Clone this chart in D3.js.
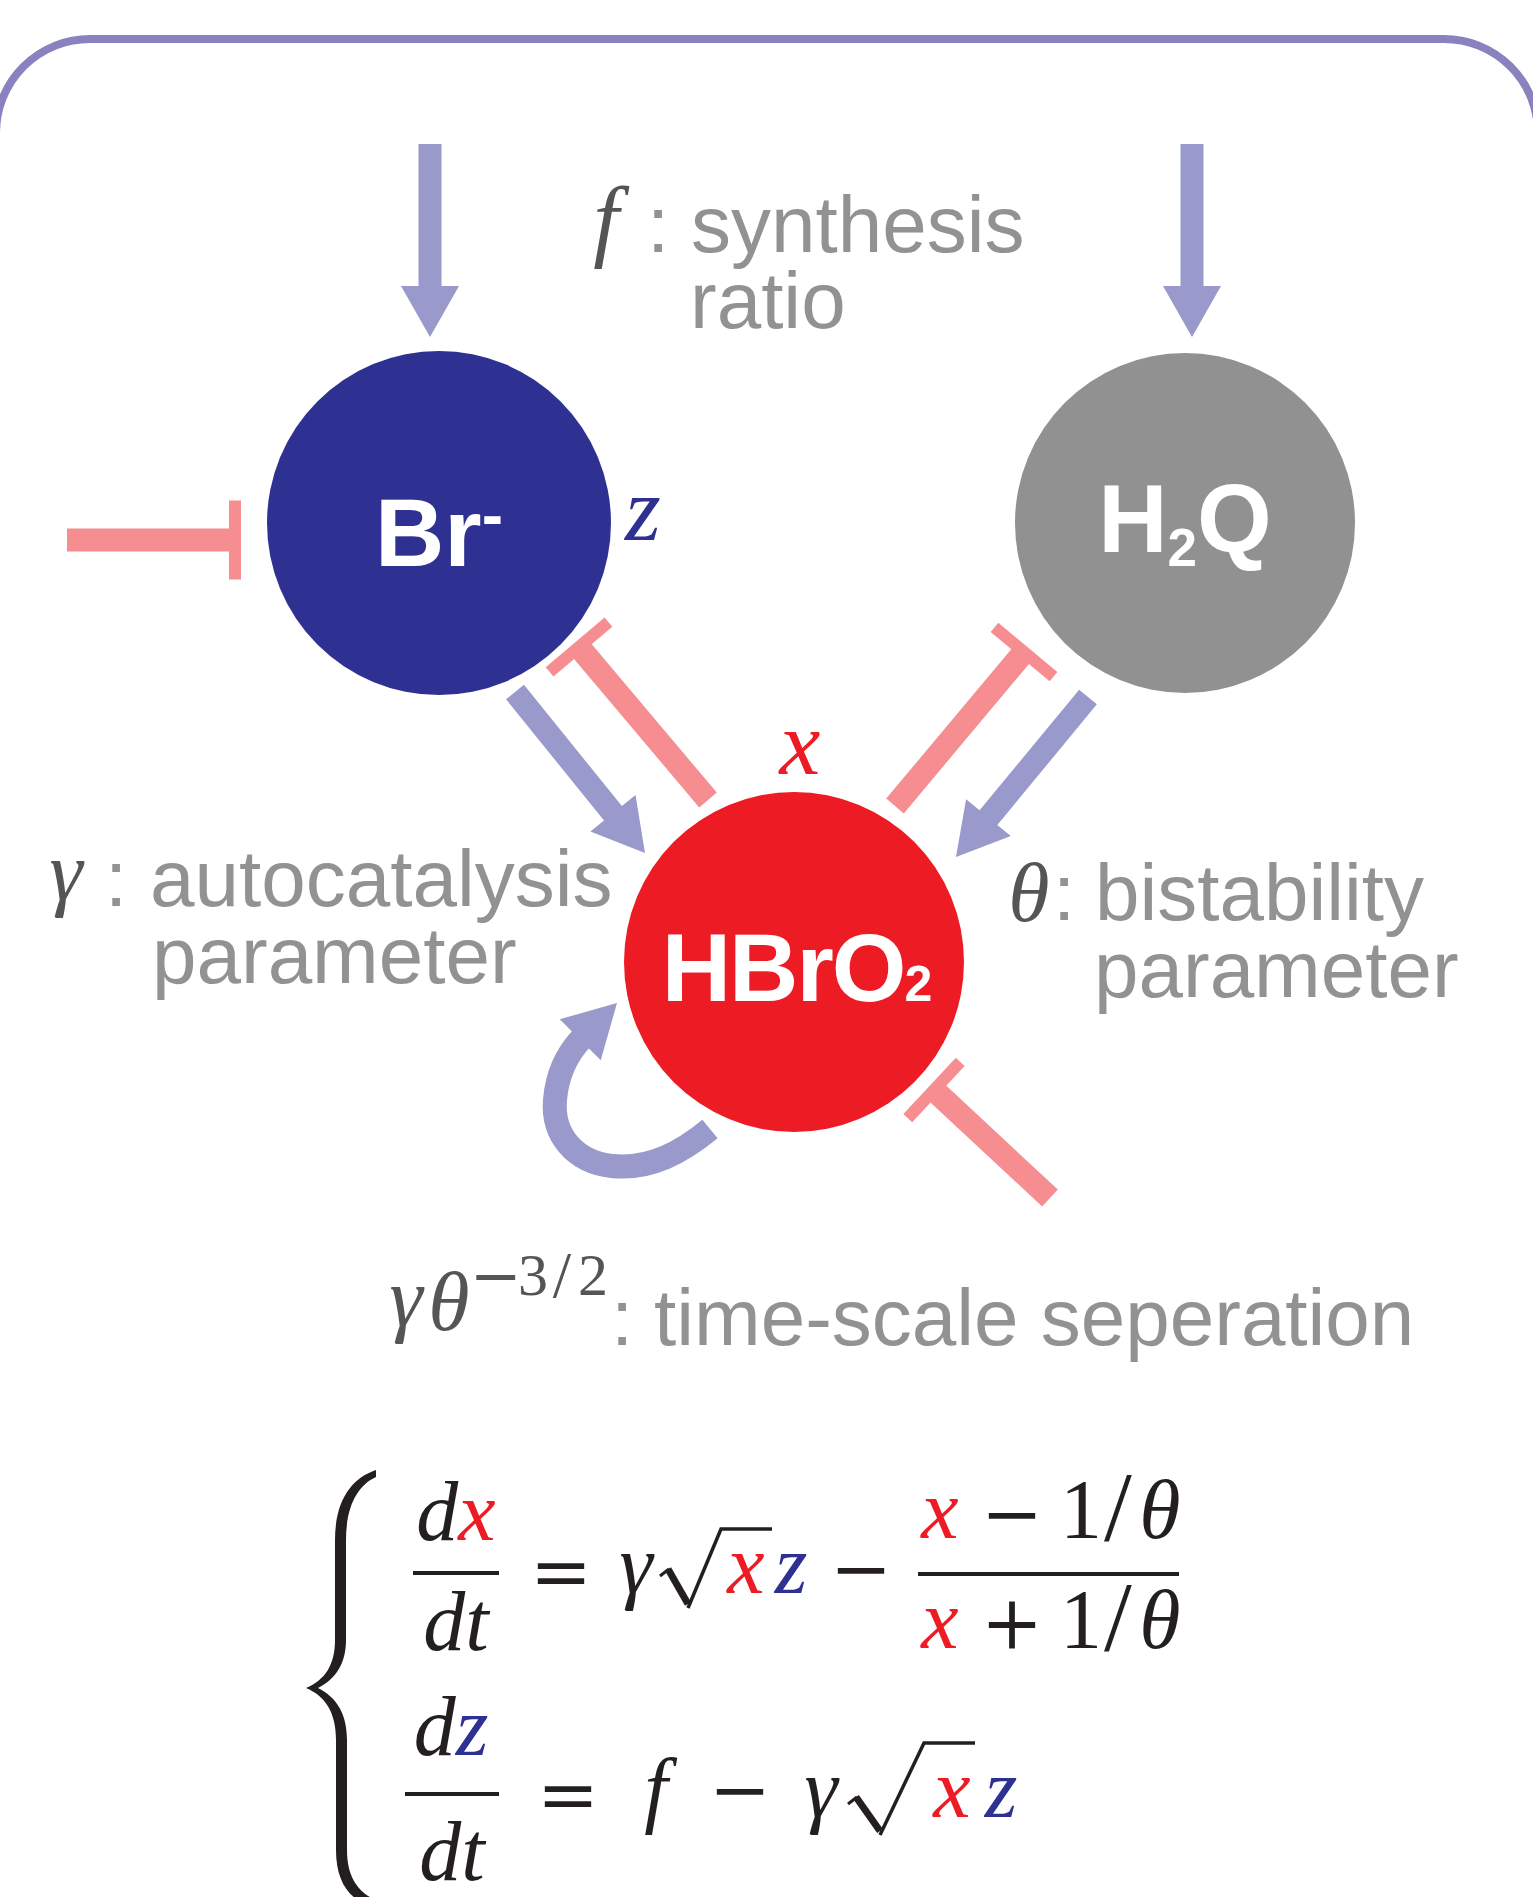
<!DOCTYPE html>
<html><head><meta charset="utf-8">
<script src="https://cdn.jsdelivr.net/npm/d3@7"></script>
<style>html,body{margin:0;padding:0;background:#fff;}svg{display:block}</style>
</head><body>
<script>
// ---------- data ----------
const nodeIds = ["Br", "H2Q", "HBrO2"];
const nodeFills = ["#2e3192", "#929191", "#ed1c24"];
const activationEdges = [["in", "Br"], ["in", "H2Q"], ["Br", "HBrO2"], ["H2Q", "HBrO2"]];
const inhibitionEdges = [["in", "Br"], ["HBrO2", "Br"], ["HBrO2", "H2Q"], ["in", "HBrO2"]];
const selfLoops = [["HBrO2", "HBrO2"]];
const variableNames = ["z", "x"];
const paramLabels = ["synthesis", "ratio", "autocatalysis", "parameter", "bistability", "parameter", "time-scale seperation"];

// ---------- layout ----------
const W = 1533, H = 1897;
const C = {act: "#9999cc", inh: "#f58d91", border: "#8883be", gray: "#929292", math: "#555555", ink: "#231f20", red: "#ed1c24", navy: "#2e3192"};
const nodePos = {Br: [439, 523, 172], H2Q: [1185, 523, 170], HBrO2: [794, 962, 170]};
const actGeom = [[430, 144, 430, 337], [1192, 144, 1192, 337], [515, 692, 645, 853], [1088, 697, 956, 857]];
const inhGeom = [[67, 540, 235, 540, 79], [708, 800, 579, 647, 77], [895, 806, 1024, 652, 77], [1050, 1198, 934, 1090, 77]];

const svg = d3.select("body").append("svg").attr("width", W).attr("height", H);

svg.append("rect").attr("x", -4).attr("y", 39).attr("width", 1542).attr("height", 2100)
  .attr("rx", 94).attr("fill", "none").attr("stroke", C.border).attr("stroke-width", 8);

function arrowPts(sx, sy, tx, ty, w, hw, hl) {
  const L = Math.hypot(tx - sx, ty - sy), ux = (tx - sx) / L, uy = (ty - sy) / L, nx = -uy, ny = ux;
  const bx = tx - ux * hl, by = ty - uy * hl;
  return [[sx + nx * w / 2, sy + ny * w / 2], [bx + nx * w / 2, by + ny * w / 2], [bx + nx * hw / 2, by + ny * hw / 2],
    [tx, ty], [bx - nx * hw / 2, by - ny * hw / 2], [bx - nx * w / 2, by - ny * w / 2], [sx - nx * w / 2, sy - ny * w / 2]];
}
const line = d3.line();

svg.selectAll("path.act").data(actGeom).join("path").attr("class", "act")
  .attr("d", g => line(arrowPts(g[0], g[1], g[2], g[3], 23, 58, 51)) + "Z").attr("fill", C.act);

const inh = svg.selectAll("g.inh").data(inhGeom).join("g").attr("class", "inh");
inh.append("line").attr("x1", g => g[0]).attr("y1", g => g[1]).attr("x2", g => g[2]).attr("y2", g => g[3])
  .attr("stroke", C.inh).attr("stroke-width", 23);
inh.append("line")
  .each(function (g) {
    const L = Math.hypot(g[2] - g[0], g[3] - g[1]), ux = (g[2] - g[0]) / L, uy = (g[3] - g[1]) / L, nx = -uy, ny = ux;
    d3.select(this).attr("x1", g[2] - nx * g[4] / 2).attr("y1", g[3] - ny * g[4] / 2)
      .attr("x2", g[2] + nx * g[4] / 2).attr("y2", g[3] + ny * g[4] / 2);
  })
  .attr("stroke", C.inh).attr("stroke-width", 12);

svg.append("path").attr("d", "M710,1129 C682,1152 650,1170 612,1166 C575,1162 552,1135 555,1100 C557,1075 566,1055 582,1038")
  .attr("fill", "none").attr("stroke", C.act).attr("stroke-width", 24);
svg.append("path").attr("d", line(arrowPts(576, 1044, 617, 1003, 0, 58, 52)) + "Z").attr("fill", C.act);

svg.selectAll("circle.node").data(nodeIds).join("circle").attr("class", "node")
  .attr("cx", d => nodePos[d][0]).attr("cy", d => nodePos[d][1]).attr("r", d => nodePos[d][2])
  .attr("fill", (d, i) => nodeFills[i]);

const sans = "'Liberation Sans', Arial, Helvetica, sans-serif";
const serif = "'Liberation Serif', 'Times New Roman', serif";
const opFont = "'DejaVu Serif', serif";

let t = svg.append("text").attr("x", 439).attr("y", 566).attr("text-anchor", "middle")
  .attr("font-family", sans).attr("font-weight", "bold").attr("font-size", 96).attr("fill", "#fff");
t.append("tspan").text("Br");
t.append("tspan").attr("font-size", 64).attr("dy", -29).text("-");

t = svg.append("text").attr("x", 1185).attr("y", 552).attr("text-anchor", "middle")
  .attr("font-family", sans).attr("font-weight", "bold").attr("font-size", 96).attr("fill", "#fff");
t.append("tspan").text("H");
t.append("tspan").attr("font-size", 53).attr("dy", 14).text("2");
t.append("tspan").attr("dy", -14).text("Q");

t = svg.append("text").attr("x", 796).attr("y", 1001).attr("text-anchor", "middle")
  .attr("font-family", sans).attr("font-weight", "bold").attr("font-size", 96).attr("fill", "#fff")
  .attr("letter-spacing", -2);
t.append("tspan").text("HBrO");
t.append("tspan").attr("font-size", 50).text("2");

function tx(x, y, s, o = {}) {
  return svg.append("text").attr("x", x).attr("y", y).text(s)
    .attr("text-anchor", o.anchor || "start")
    .attr("font-family", o.op ? opFont : (o.serif ? serif : sans))
    .attr("font-style", o.italic ? "italic" : "normal")
    .attr("font-size", o.size || 80)
    .attr("fill", o.fill || C.gray);
}

tx(643, 540, variableNames[0], {serif: 1, italic: 1, size: 92, fill: C.navy, anchor: "middle"});
tx(800, 774, variableNames[1], {serif: 1, italic: 1, size: 92, fill: C.red, anchor: "middle"});

tx(606, 250, "f", {serif: 1, italic: 1, size: 92, fill: C.math, anchor: "middle"});
tx(647, 252, ":");
tx(691, 252, paramLabels[0]);
tx(690, 328, paramLabels[1]);

tx(66, 900, "γ", {serif: 1, italic: 1, size: 84, fill: C.math, anchor: "middle"});
tx(105, 906, ":");
tx(150, 906, paramLabels[2]);
tx(152, 983, paramLabels[3]);

tx(1029, 921, "θ", {serif: 1, italic: 1, size: 84, fill: C.math, anchor: "middle"});
tx(1053, 920, ":");
tx(1095, 920, paramLabels[4]);
tx(1094, 997, paramLabels[5]);

tx(406, 1326, "γ", {serif: 1, italic: 1, size: 84, fill: C.math, anchor: "middle"});
tx(449, 1330, "θ", {serif: 1, italic: 1, size: 84, fill: C.math, anchor: "middle"});
tx(496, 1297, "−", {op: 1, size: 62, fill: C.math, anchor: "middle"});
tx(533, 1295, "3", {serif: 1, size: 60, fill: C.math, anchor: "middle"});
tx(562, 1297, "/", {serif: 1, size: 66, fill: C.math, anchor: "middle"});
tx(593, 1295, "2", {serif: 1, size: 60, fill: C.math, anchor: "middle"});
tx(611, 1345, ":");
tx(654, 1345, paramLabels[6]);

// ---------- equations ----------
const E = {serif: 1, size: 84, fill: C.ink, anchor: "middle"};
const EI = Object.assign({}, E, {italic: 1});
const OP = {op: 1, size: 74, fill: C.ink, anchor: "middle"};
function frac(x1, x2, y) {
  svg.append("line").attr("x1", x1).attr("x2", x2).attr("y1", y).attr("y2", y).attr("stroke", C.ink).attr("stroke-width", 4);
}
function radical(x0, ym, xb, yb, xt, yt, xe) {
  svg.append("path").attr("d", `M${x0},${ym + 7} L${x0 + 9},${ym}`).attr("stroke", C.ink).attr("stroke-width", 3).attr("fill", "none");
  svg.append("path").attr("d", `M${x0 + 8},${ym} L${xb},${yb - 4}`).attr("stroke", C.ink).attr("stroke-width", 7).attr("fill", "none");
  svg.append("path").attr("d", `M${xb},${yb} L${xt},${yt} L${xe},${yt}`).attr("stroke", C.ink).attr("stroke-width", 3.5).attr("fill", "none").attr("stroke-linejoin", "miter");
}

t = tx(456, 1540, "", EI); t.append("tspan").text("d"); t.append("tspan").attr("fill", C.red).text("x");
frac(413, 499, 1573);
tx(456, 1650, "dt", EI);
tx(561, 1597, "=", OP);
tx(636, 1593, "γ", EI);
radical(660, 1569, 688, 1608, 721, 1529, 772);
tx(746, 1593, "x", Object.assign({}, EI, {fill: C.red}));
tx(791, 1593, "z", Object.assign({}, EI, {fill: C.navy}));
tx(861, 1594, "−", OP);
frac(918, 1179, 1574);
tx(940, 1538, "x", Object.assign({}, EI, {fill: C.red}));
tx(1012, 1539, "−", OP);
tx(1081, 1538, "1", E);
tx(1118, 1540, "/", Object.assign({}, E, {size: 100}));
tx(1160, 1538, "θ", EI);
tx(940, 1648, "x", Object.assign({}, EI, {fill: C.red}));
tx(1012, 1649, "+", OP);
tx(1081, 1648, "1", E);
tx(1118, 1650, "/", Object.assign({}, E, {size: 100}));
tx(1160, 1648, "θ", EI);

t = tx(451, 1755, "", EI); t.append("tspan").text("d"); t.append("tspan").attr("fill", C.navy).text("z");
frac(405, 499, 1794);
tx(452, 1880, "dt", EI);
tx(568, 1820, "=", OP);
tx(656, 1817, "f", EI);
tx(740, 1815, "−", OP);
tx(821, 1817, "γ", EI);
radical(848, 1797, 880, 1835, 924, 1743, 975);
tx(952, 1817, "x", Object.assign({}, EI, {fill: C.red}));
tx(1001, 1817, "z", Object.assign({}, EI, {fill: C.navy}));

svg.append("path").attr("fill", C.ink).attr("d",
  "M376,1470 C352,1478 335,1500 335,1540 L335,1640 C335,1665 325,1680 306,1688 " +
  "C325,1696 336,1712 336,1740 L336,1850 C336,1885 352,1902 376,1908 " +
  "L376,1900 C359,1893 347,1878 347,1850 L347,1740 C347,1713 336,1697 318,1688 " +
  "C336,1679 346,1663 346,1640 L346,1540 C346,1506 358,1485 376,1477 Z");
</script>
</body></html>
